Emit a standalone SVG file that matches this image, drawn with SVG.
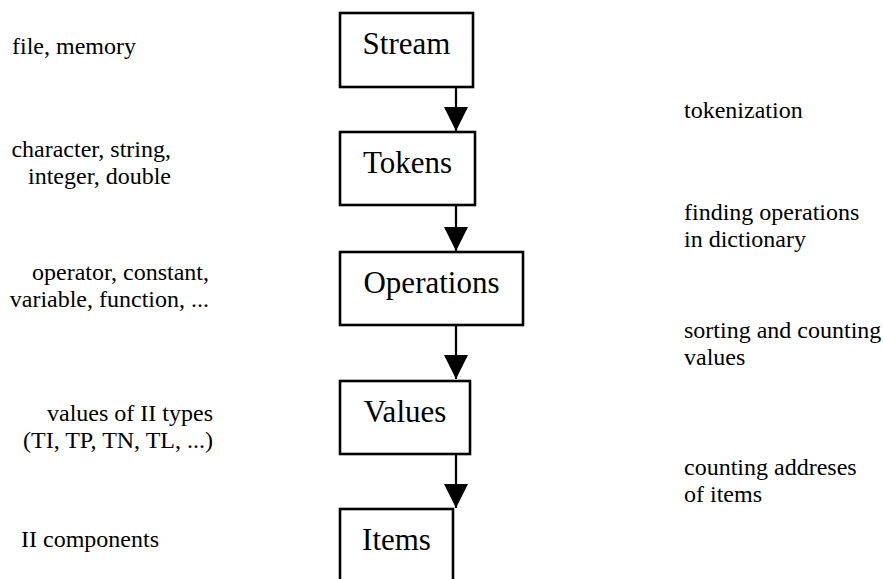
<svg xmlns="http://www.w3.org/2000/svg" width="883" height="579" viewBox="0 0 883 579" font-family="'Liberation Serif', 'Times New Roman', 'DejaVu Serif', serif">
  <style>
    .box { fill: #ffffff; stroke: #000000; stroke-width: 2.6; }
    .title { font-family: 'Liberation Serif', 'Times New Roman', serif; font-size: 31px; fill: #000000; text-anchor: middle; }
    .note { font-family: 'Liberation Serif', 'Times New Roman', serif; font-size: 24px; fill: #000000; }
    .end { text-anchor: end; }
    .link { stroke: #000000; stroke-width: 2.2; fill: none; marker-end: url(#head); }
  </style>
  <defs>
    <marker id="head" markerUnits="userSpaceOnUse" markerWidth="24" markerHeight="24" viewBox="0 0 22 22" refX="22" refY="11" orient="auto">
      <polygon points="0,0 22,11 0,22" fill="#000000"/>
    </marker>
  </defs>
  <rect width="883" height="579" fill="#ffffff"/>

  <!-- pipeline stages -->
  <g id="stream">
    <rect class="box" x="340" y="13" width="133" height="74"/>
    <text class="title" x="406.5" y="54">Stream</text>
  </g>
  <g id="tokens">
    <rect class="box" x="340" y="132" width="135" height="73"/>
    <text class="title" x="407.5" y="173">Tokens</text>
  </g>
  <g id="operations">
    <rect class="box" x="340" y="252" width="183" height="73"/>
    <text class="title" x="431.5" y="293">Operations</text>
  </g>
  <g id="values">
    <rect class="box" x="340" y="381" width="130" height="73"/>
    <text class="title" x="405" y="422">Values</text>
  </g>
  <g id="items">
    <rect class="box" x="340" y="509" width="113" height="100"/>
    <text class="title" x="396.5" y="550">Items</text>
  </g>

  <!-- connectors between stages -->
  <g id="connectors">
    <line class="link" x1="456" y1="87" x2="456" y2="131"/>
    <line class="link" x1="456" y1="205" x2="456" y2="251"/>
    <line class="link" x1="456" y1="325" x2="456" y2="379"/>
    <line class="link" x1="456" y1="454" x2="456" y2="508"/>
  </g>

  <!-- data kinds (left column) -->
  <g id="left-notes">
    <text class="note" x="12" y="54">file, memory</text>
    <text class="note end" x="171" y="157">character, string,</text>
    <text class="note end" x="171" y="184">integer, double</text>
    <text class="note end" x="209" y="280">operator, constant,</text>
    <text class="note end" x="209" y="307">variable, function, ...</text>
    <text class="note end" x="213" y="421">values of II types</text>
    <text class="note end" x="213" y="448">(TI, TP, TN, TL, ...)</text>
    <text class="note" x="21" y="547">II components</text>
  </g>

  <!-- processing steps (right column) -->
  <g id="right-notes">
    <text class="note" x="684" y="118">tokenization</text>
    <text class="note" x="684" y="220">finding operations</text>
    <text class="note" x="684" y="247">in dictionary</text>
    <text class="note" x="684" y="338">sorting and counting</text>
    <text class="note" x="684" y="365">values</text>
    <text class="note" x="684" y="475">counting addreses</text>
    <text class="note" x="684" y="502">of items</text>
  </g>
</svg>
